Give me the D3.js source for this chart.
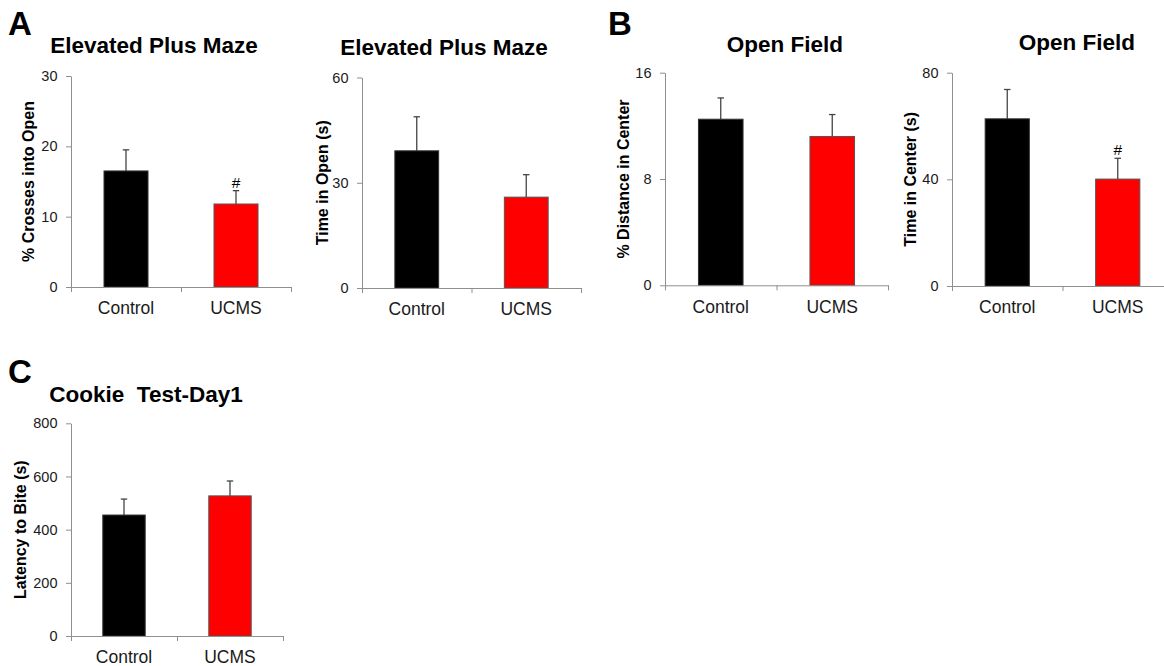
<!DOCTYPE html>
<html>
<head>
<meta charset="utf-8">
<script src="https://cdn.jsdelivr.net/npm/d3@7"></script>
<style>
  html, body { margin: 0; padding: 0; background: #fff; }
  svg { display: block; font-family: "Liberation Sans", Arial, sans-serif; }
</style>
</head>
<body>
<svg id="chart" width="1164" height="666"></svg>
<script>
// ---- data ----
const categories = ["Control", "UCMS"];
const titles = ["Elevated Plus Maze", "Elevated Plus Maze", "Open Field", "Open Field", "Cookie  Test-Day1"];
const yLabels = ["% Crosses into Open", "Time in Open (s)", "% Distance in Center", "Time in Center (s)", "Latency to Bite (s)"];
const controlMeans = [16.5, 39.1, 12.5, 62.7, 455];
const ucmsMeans = [11.8, 25.9, 11.2, 40.1, 527];
const controlErr = [3.0, 9.7, 1.6, 11.0, 60];
const ucmsErr = [1.9, 6.4, 1.65, 7.8, 56];
const yMaxes = [30, 60, 16, 80, 800];
const yTickValues = [[0, 10, 20, 30], [0, 30, 60], [0, 8, 16], [0, 40, 80], [0, 200, 400, 600, 800]];
const sigMarks = [["", "#"], ["", ""], ["", ""], ["", "#"], ["", ""]];
const panelLetters = ["A", "B", "C"];

// ---- layout (positions / styles) ----
const layout = [
  { x0: 71,  x1: 291,  y0: 287,   yTop: 76,    titleX: 154,  titleY: 53,  labX: 28  },
  { x0: 362, x1: 581,  y0: 288,   yTop: 77.5,  titleX: 444,  titleY: 55,  labX: 322 },
  { x0: 665, x1: 888,  y0: 285.3, yTop: 72.7,  titleX: 785,  titleY: 52,  labX: 623 },
  { x0: 952, x1: 1173, y0: 286,   yTop: 72.7,  titleX: 1077, titleY: 50,  labX: 910 },
  { x0: 71,  x1: 283,  y0: 636,   yTop: 423.3, titleX: 146,  titleY: 402, labX: 20  }
];
const letterPos = [{ x: 8, y: 35 }, { x: 608, y: 35 }, { x: 8, y: 383 }];
const barFills = ["#000000", "#ff0000"];
const barStrokes = ["#333333", "#555555"];
const axisColor = "#8f8f8f";
const textColor = "#1a1a1a";

const svg = d3.select("#chart");

panelLetters.forEach((L, i) => {
  svg.append("text")
    .attr("x", letterPos[i].x).attr("y", letterPos[i].y)
    .attr("font-size", 33).attr("font-weight", "bold")
    .attr("fill", "#000")
    .text(L);
});

layout.forEach((p, i) => {
  const g = svg.append("g");
  const x = d3.scaleBand().domain(categories).range([p.x0, p.x1])
    .paddingInner(0.6).paddingOuter(0.3);
  const y = d3.scaleLinear().domain([0, yMaxes[i]]).range([p.y0, p.yTop]);
  const xLin = d3.scaleLinear().domain([0, categories.length]).range([p.x0, p.x1]);

  const rows = categories.map((c, k) => ({
    cat: c,
    mean: k === 0 ? controlMeans[i] : ucmsMeans[i],
    err: k === 0 ? controlErr[i] : ucmsErr[i],
    sig: sigMarks[i][k],
    k: k
  }));

  // title
  g.append("text")
    .attr("x", p.titleX).attr("y", p.titleY)
    .attr("text-anchor", "middle")
    .attr("font-size", 22.5).attr("font-weight", "bold").attr("fill", "#000")
    .attr("xml:space", "preserve")
    .text(titles[i]);

  // error bars (upper only) drawn beneath bars
  const eb = g.append("g").attr("stroke", "#444").attr("stroke-width", 1.3);
  rows.forEach(r => {
    const cx = x(r.cat) + x.bandwidth() / 2;
    eb.append("line").attr("x1", cx).attr("x2", cx)
      .attr("y1", y(r.mean)).attr("y2", y(r.mean + r.err));
    eb.append("line").attr("x1", cx - 3.2).attr("x2", cx + 3.2)
      .attr("y1", y(r.mean + r.err)).attr("y2", y(r.mean + r.err));
  });

  // bars
  g.selectAll("rect.bar").data(rows).join("rect")
    .attr("class", "bar")
    .attr("x", d => x(d.cat))
    .attr("width", x.bandwidth())
    .attr("y", d => y(d.mean))
    .attr("height", d => y(0) - y(d.mean))
    .attr("fill", d => barFills[d.k])
    .attr("stroke", d => barStrokes[d.k])
    .attr("stroke-width", 1);

  // significance marks
  g.selectAll("text.sig").data(rows.filter(r => r.sig)).join("text")
    .attr("class", "sig")
    .attr("x", d => x(d.cat) + x.bandwidth() / 2)
    .attr("y", d => y(d.mean + d.err) - 3)
    .attr("text-anchor", "middle")
    .attr("font-size", 15.5).attr("fill", "#000")
    .text(d => d.sig);

  // y axis
  const yAxis = g.append("g").attr("transform", `translate(${p.x0},0)`)
    .call(d3.axisLeft(y).tickValues(yTickValues[i]).tickSize(5).tickSizeOuter(0).tickPadding(8.5)
      .tickFormat(d3.format("d")));
  yAxis.selectAll("path, line").attr("stroke", axisColor);
  yAxis.selectAll("text").attr("font-size", 14.5).attr("fill", textColor)
    .attr("font-family", "Liberation Sans, Arial, sans-serif");

  // x axis line with boundary ticks
  const xAxisLine = g.append("g").attr("transform", `translate(0,${p.y0})`)
    .call(d3.axisBottom(xLin).tickValues(d3.range(categories.length + 1)).tickSize(5).tickSizeOuter(0)
      .tickFormat(""));
  xAxisLine.selectAll("path, line").attr("stroke", axisColor);

  // category labels
  const xAxisLab = g.append("g").attr("transform", `translate(0,${p.y0})`)
    .call(d3.axisBottom(x).tickSize(0).tickPadding(15));
  xAxisLab.select(".domain").remove();
  xAxisLab.selectAll("text").attr("font-size", 17.5).attr("fill", textColor)
    .attr("font-family", "Liberation Sans, Arial, sans-serif");

  // y label
  g.append("text")
    .attr("transform", `translate(${p.labX},${(p.y0 + p.yTop) / 2}) rotate(-90)`)
    .attr("text-anchor", "middle")
    .attr("dominant-baseline", "central")
    .attr("font-size", 16).attr("font-weight", "bold").attr("fill", "#000")
    .text(yLabels[i]);
});
</script>
</body>
</html>
